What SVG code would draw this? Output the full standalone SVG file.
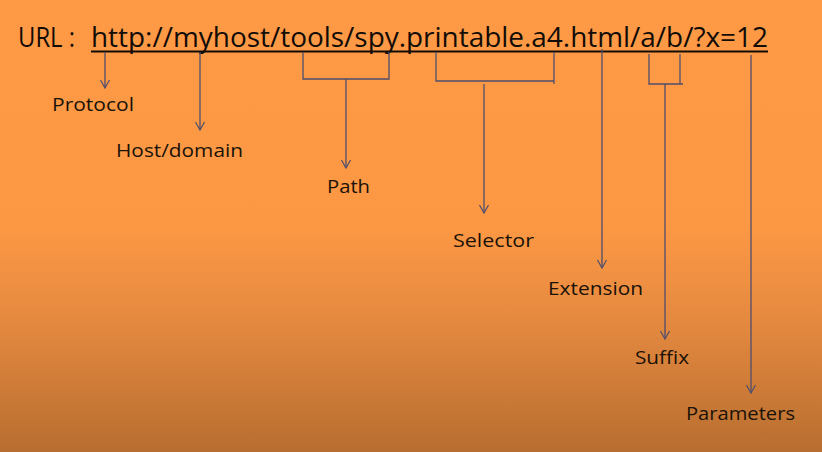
<svg xmlns="http://www.w3.org/2000/svg" width="822" height="452" viewBox="0 0 822 452">
<defs>
<linearGradient id="bg" x1="0" y1="0" x2="0" y2="1">
<stop offset="0" stop-color="#FE9A46"/>
<stop offset="0.5" stop-color="#FC9844"/>
<stop offset="0.7" stop-color="#E68A40"/>
<stop offset="1" stop-color="#B86E30"/>
</linearGradient>
<marker id="arr" markerWidth="12" markerHeight="12" refX="10" refY="6" orient="auto" markerUnits="userSpaceOnUse" viewBox="0 0 12 12">
<path d="M2 1.5 L10 6 L2 10.5" fill="none" stroke="#4F4E6C" stroke-width="1.2"/>
</marker>
<style>
.lbl{font-family:"Open Sans","Liberation Sans",sans-serif;font-size:18px;fill:#1a1208}
.ttl{font-family:"Open Sans","Liberation Sans",sans-serif;font-size:28px;fill:#120c06}
.c{fill:none;stroke:#4F4E6C;stroke-width:1.3}
.a{marker-end:url(#arr)}
</style>
</defs>
<rect width="822" height="452" fill="url(#bg)"/>
<g id="title">
<text class="ttl" x="18" y="47" textLength="57" lengthAdjust="spacingAndGlyphs">URL :</text>
<text class="ttl" x="91" y="47" textLength="677" lengthAdjust="spacingAndGlyphs">http://myhost/tools/spy.printable.a4.html/a/b/?x=12</text>
<line x1="91" y1="51.5" x2="768" y2="51.5" stroke="#120c06" stroke-width="2"/>
</g>
<g id="connectors">
<line class="c a" x1="105" y1="52" x2="105" y2="88"/>
<line class="c a" x1="200" y1="52" x2="200" y2="130"/>
<polyline class="c" points="303,52 303,79 389,79 389,52"/>
<line class="c a" x1="346" y1="79" x2="346" y2="168"/>
<polyline class="c" points="436,52 436,81 554,81"/>
<line class="c" x1="554" y1="52" x2="554" y2="84"/>
<line class="c a" x1="484" y1="84" x2="484" y2="213"/>
<line class="c a" x1="602" y1="49" x2="602" y2="268"/>
<polyline class="c" points="649,54 649,84 683,84"/>
<line class="c" x1="680" y1="54" x2="680" y2="84"/>
<line class="c a" x1="665" y1="84" x2="665" y2="339"/>
<line class="c a" x1="751" y1="55" x2="751" y2="393"/>
</g>
<g id="protocol"><text class="lbl" x="52" y="111" textLength="82" lengthAdjust="spacingAndGlyphs">Protocol</text></g>
<g id="host"><text class="lbl" x="116" y="157" textLength="127" lengthAdjust="spacingAndGlyphs">Host/domain</text></g>
<g id="path"><text class="lbl" x="327" y="193" textLength="43" lengthAdjust="spacingAndGlyphs">Path</text></g>
<g id="selector"><text class="lbl" x="453" y="247" textLength="81" lengthAdjust="spacingAndGlyphs">Selector</text></g>
<g id="extension"><text class="lbl" x="548" y="295" textLength="95" lengthAdjust="spacingAndGlyphs">Extension</text></g>
<g id="suffix"><text class="lbl" x="635" y="364" textLength="54" lengthAdjust="spacingAndGlyphs">Suffix</text></g>
<g id="parameters"><text class="lbl" x="686" y="420" textLength="109" lengthAdjust="spacingAndGlyphs">Parameters</text></g>
</svg>
